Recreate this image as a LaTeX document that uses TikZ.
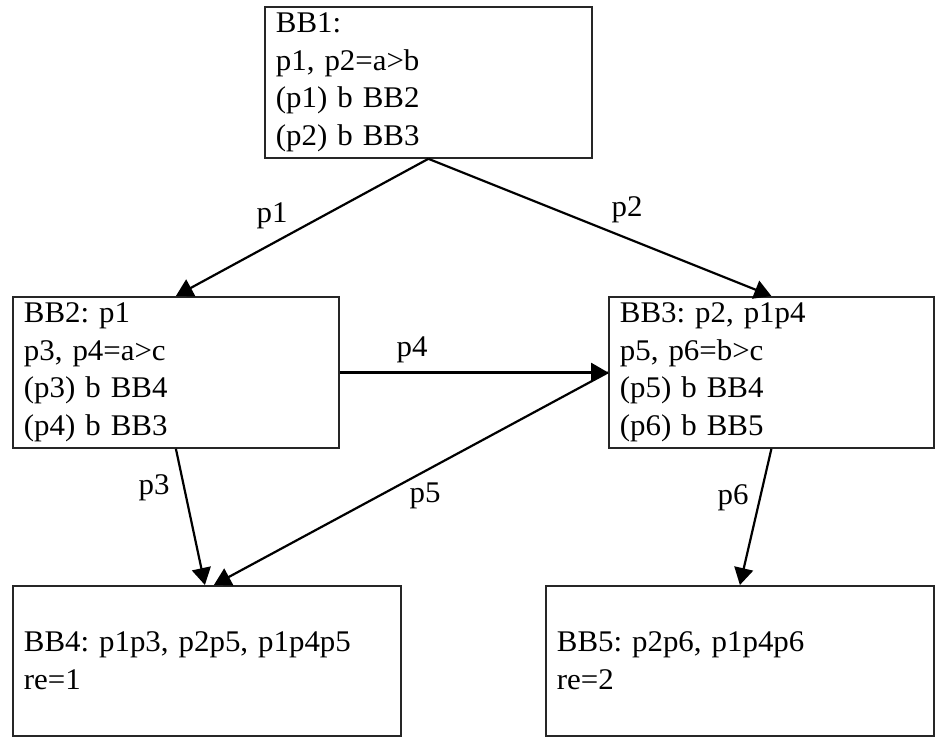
\documentclass[tikz,border=0pt]{standalone}
\usepackage{fontspec}
\setmainfont{Liberation Serif}[FakeStretch=1.03]
\frenchspacing
\usetikzlibrary{arrows.meta}
\begin{document}
\begin{tikzpicture}[x=1pt,y=-1pt,
  bbox/.style={draw=black!85, line width=1.8pt, rectangle, anchor=north west,
    inner xsep=11pt, inner ysep=0pt, align=left,
    font=\fontsize{30}{37.5}\selectfont},
  flow/.style={draw=black, line width=2.2pt, -{Triangle[length=17pt,width=19pt]}},
  lbl/.style={font=\fontsize{30}{37.5}\selectfont, inner sep=0pt}]
\useasboundingbox (0,0) rectangle (946,738);
\node[bbox, text width=305pt, minimum width=327pt, minimum height=151pt] (bb1) at (264,6)
  {BB1:\\p1, p2=a>b\\(p1) b BB2\\(p2) b BB3};
\node[bbox, text width=304pt, minimum width=326pt, minimum height=151pt] (bb2) at (12,296)
  {BB2: p1\\p3, p4=a>c\\(p3) b BB4\\(p4) b BB3};
\node[bbox, text width=303pt, minimum width=325pt, minimum height=151pt] (bb3) at (608,296)
  {BB3: p2, p1p4\\p5, p6=b>c\\(p5) b BB4\\(p6) b BB5};
\node[bbox, text width=366pt, minimum width=388pt, minimum height=150pt] (bb4) at (12,585)
  {BB4: p1p3, p2p5, p1p4p5\\re=1};
\node[bbox, text width=366pt, minimum width=388pt, minimum height=150pt] (bb5) at (545,585)
  {BB5: p2p6, p1p4p6\\re=2};
\draw[flow] (bb1.south) -- (bb2.north);
\draw[flow] (bb1.south) -- (bb3.north);
\draw[flow] (bb2.east) -- (bb3.west);
\draw[flow] (bb2.south) -- ([xshift=-2pt]bb4.north);
\draw[flow] (bb3.west) -- ([xshift=7pt]bb4.north);
\draw[flow] (bb3.south) -- (bb5.north);
\node[lbl] (l1) at (272,216) {p1};
\node[lbl] (l2) at (627,210) {p2};
\node[lbl] (l4) at (412,350) {p4};
\node[lbl] (l3) at (154,488) {p3};
\node[lbl] (l5) at (425,496) {p5};
\node[lbl] (l6) at (733,498) {p6};
\end{tikzpicture}
\end{document}
